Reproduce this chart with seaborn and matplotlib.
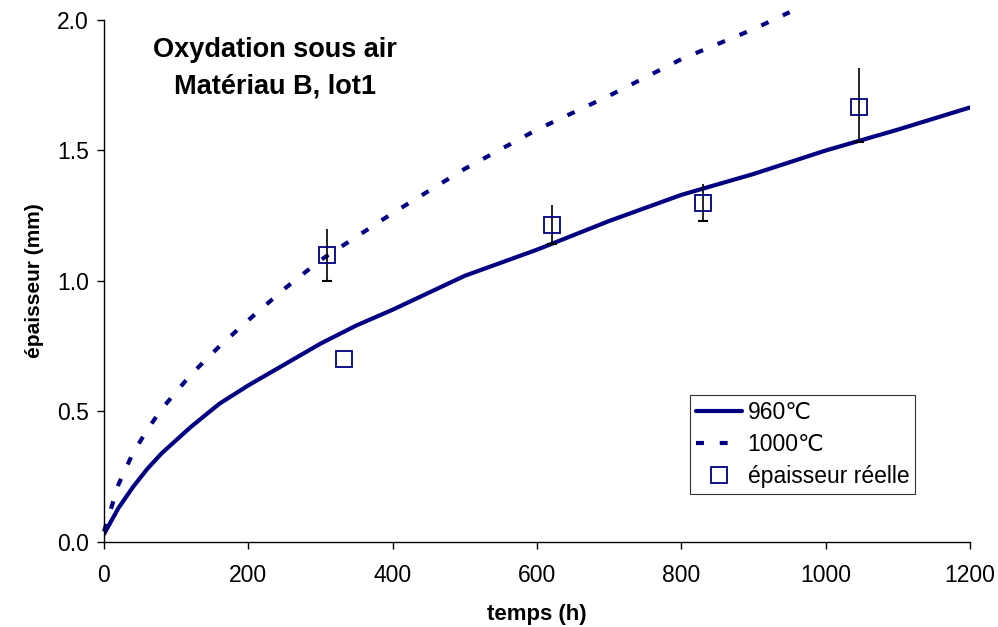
import numpy as np
import pandas as pd
import matplotlib
matplotlib.use("Agg")
import matplotlib.pyplot as plt
import seaborn as sns

sns.set_theme(style="white")
plt.rcParams['font.family'] = ['Liberation Sans', 'DejaVu Sans']
plt.rcParams.update({"text.color": "black", "axes.labelcolor": "black",
                     "xtick.color": "black", "ytick.color": "black"})

# model curves
t_960 = [0, 20, 40, 60, 80, 120, 160, 200, 250, 300, 350, 400, 500, 600, 700, 800, 900, 1000, 1100, 1200]
e_960 = [0.03, 0.13, 0.21, 0.28, 0.34, 0.44, 0.53, 0.60, 0.68, 0.76, 0.83, 0.89, 1.02, 1.12, 1.23, 1.33, 1.41, 1.50, 1.58, 1.665]

t_1000 = [0, 20, 40, 60, 80, 120, 160, 200, 250, 300, 350, 400, 500, 600, 700, 800, 900, 950]
e_1000 = [0.04, 0.22, 0.34, 0.43, 0.51, 0.64, 0.75, 0.85, 0.97, 1.08, 1.17, 1.26, 1.43, 1.58, 1.71, 1.85, 1.965, 2.03]

# measured thickness
t_mes = [309, 332, 621, 830, 1046]
e_mes = [1.10, 0.70, 1.215, 1.30, 1.667]
err_low = [0.10, 0.0, 0.075, 0.07, 0.135]
err_high = [0.10, 0.0, 0.075, 0.07, 0.15]

navy = "#000080"

fig = plt.figure(figsize=(9.98, 6.27), dpi=100)
ax = fig.add_axes([0.1042, 0.1356, 0.8678, 0.8325])

sns.lineplot(x=t_960, y=e_960, ax=ax, color=navy, lw=3, label="960℃")
sns.lineplot(x=t_1000, y=e_1000, ax=ax, color=navy, lw=3, label="1000℃")
ax.lines[1].set_linestyle((0, (1.9, 3.8)))
ax.lines[1].set_clip_on(False)

has_err = [lo > 0 for lo in err_low]
t_err = [t for t, h in zip(t_mes, has_err) if h]
e_err = [e for e, h in zip(e_mes, has_err) if h]
lo_err = [l for l, h in zip(err_low, has_err) if h]
hi_err = [u for u, h in zip(err_high, has_err) if h]
ax.errorbar(t_err, e_err, yerr=[lo_err, hi_err], fmt="none", ecolor="black",
            elinewidth=1.2, capsize=0)
# only the lower end has a cap
ax.plot(t_err, [e - l for e, l in zip(e_err, lo_err)], ls="none", marker="_",
        ms=7, mew=1.5, color="black")
ax.plot(t_mes, e_mes, ls="none", marker="s", ms=12, mfc="none", mec=navy, mew=1.3,
        label="épaisseur réelle")

ax.set_xlim(0, 1200)
ax.set_ylim(0, 2.0)
ax.set_xticks(range(0, 1201, 200))
ax.set_yticks([0, 0.5, 1.0, 1.5, 2.0])
ax.set_yticklabels(["0.0", "0.5", "1.0", "1.5", "2.0"])
ax.tick_params(axis="both", direction="out", length=5, width=1, labelsize=16.5,
               bottom=True, left=True)
ax.tick_params(axis="x", pad=11)
ax.tick_params(axis="y", pad=6)
for s in ["top", "right"]:
    ax.spines[s].set_visible(False)
for s in ["left", "bottom"]:
    ax.spines[s].set_color("black")
    ax.spines[s].set_linewidth(1)

ax.set_xlabel("temps (h)", fontsize=16, fontweight="bold", labelpad=12)
ax.set_ylabel("épaisseur (mm)", fontsize=15, fontweight="bold", labelpad=9)

ax.text(237, 1.815, "Oxydation sous air\nMatériau B, lot1", ha="center", va="center",
        fontsize=19.5, fontweight="bold", linespacing=1.55)

leg = ax.legend(loc="lower right", bbox_to_anchor=(0.9365, 0.092), fontsize=16.5,
                frameon=True, fancybox=False, edgecolor="black", handlelength=2.0,
                borderpad=0.25, labelspacing=0.4, handletextpad=0.25, borderaxespad=0)
leg.get_frame().set_linewidth(0.8)

fig.savefig("out.png", dpi=100, facecolor="white")
